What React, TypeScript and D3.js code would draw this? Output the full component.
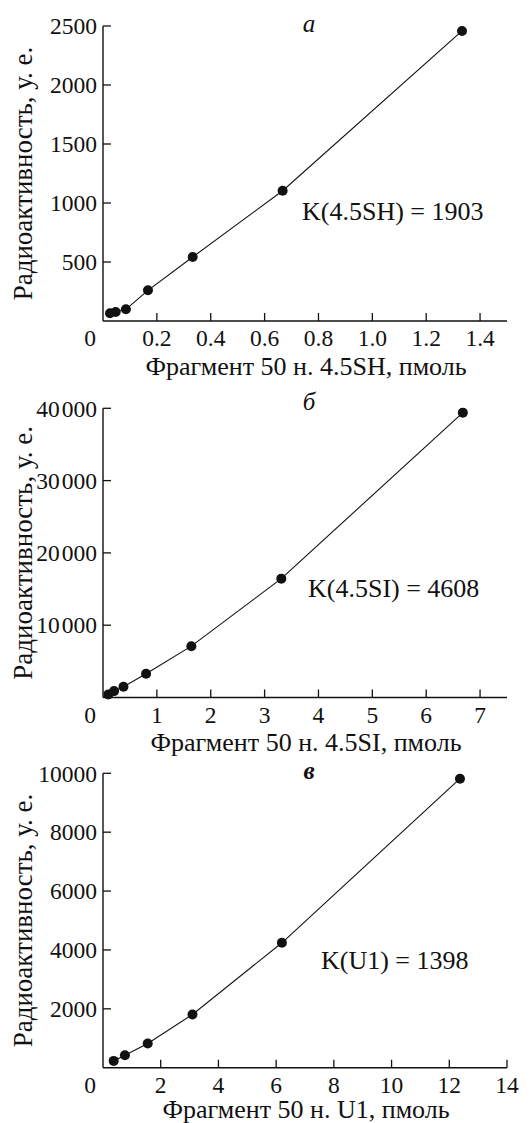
import React from "react";
import * as d3 from "d3";

// Panel a
const xA = [0.026, 0.047, 0.085, 0.167, 0.333, 0.667, 1.333];
const yA = [65, 76, 99, 260, 542, 1104, 2458];
const xTicksA = [0.2, 0.4, 0.6, 0.8, 1.0, 1.2, 1.4];
const yTicksA = [500, 1000, 1500, 2000, 2500];

// Panel b
const xB = [0.1, 0.205, 0.38, 0.8, 1.64, 3.31, 6.68];
const yB = [430, 885, 1490, 3285, 7100, 16440, 39400];
const xTicksB = [1, 2, 3, 4, 5, 6, 7];
const yTicksB = [10000, 20000, 30000, 40000];

// Panel c
const xC = [0.37, 0.76, 1.55, 3.1, 6.2, 12.37];
const yC = [231, 425, 822, 1808, 4243, 9817];
const xTicksC = [2, 4, 6, 8, 10, 12, 14];
const yTicksC = [2000, 4000, 6000, 8000, 10000];

const FONT = "Liberation Serif, Times New Roman, serif";
const INK = "#111";

type PanelProps = {
  xs: number[];
  ys: number[];
  xDomain: [number, number];
  yDomain: [number, number];
  xTicks: number[];
  yTicks: number[];
  xFmt: (v: number) => string;
  yFmt: (v: number) => string;
  top: number;
  bottom: number;
  letter: string;
  letterBold?: boolean;
  letterY: number;
  kText: string;
  kX: number;
  kY: number;
  xTitle: string;
  titleY: number;
};

const LEFT = 103;
const RIGHT = 507;

function Panel(p: PanelProps) {
  const x = d3.scaleLinear().domain(p.xDomain).range([LEFT, RIGHT]);
  const y = d3.scaleLinear().domain(p.yDomain).range([p.bottom, p.top]);
  const pts = p.xs.map((v, i) => [v, p.ys[i]] as [number, number]);
  const line = d3
    .line<[number, number]>()
    .x((d) => x(d[0]))
    .y((d) => y(d[1]));
  const yMid = (p.top + p.bottom) / 2;
  return (
    <g fontFamily={FONT}>
      <line x1={LEFT} x2={LEFT} y1={p.top} y2={p.bottom} stroke={INK} strokeWidth={1.4} />
      <line x1={LEFT} x2={RIGHT} y1={p.bottom} y2={p.bottom} stroke={INK} strokeWidth={1.4} />
      {p.yTicks.map((t) => (
        <g key={"y" + t}>
          <line x1={LEFT} x2={LEFT + 8} y1={y(t)} y2={y(t)} stroke={INK} strokeWidth={1.3} />
          <text x={97} y={y(t)} dy="0.35em" textAnchor="end" fontSize={23.5} fill={INK}>
            {p.yFmt(t)}
          </text>
        </g>
      ))}
      {p.xTicks.map((t) => (
        <g key={"x" + t}>
          <line x1={x(t)} x2={x(t)} y1={p.bottom} y2={p.bottom - 8} stroke={INK} strokeWidth={1.3} />
          <text x={x(t)} y={p.bottom + 25} textAnchor="middle" fontSize={23.5} fill={INK}>
            {p.xFmt(t)}
          </text>
        </g>
      ))}
      <text x={90} y={p.bottom + 25} textAnchor="middle" fontSize={23.5} fill={INK}>
        0
      </text>
      <path d={line(pts) || ""} fill="none" stroke={INK} strokeWidth={1.1} />
      {pts.map((d, i) => (
        <circle key={i} cx={x(d[0])} cy={y(d[1])} r={5} fill={INK} />
      ))}
      <text
        x={309}
        y={p.letterY}
        textAnchor="middle"
        fontSize={25}
        fontStyle="italic"
        fontWeight={p.letterBold ? "bold" : "normal"}
        fill={INK}
      >
        {p.letter}
      </text>
      <text x={p.kX} y={p.kY} fontSize={26} fill={INK}>
        {p.kText}
      </text>
      <text x={(LEFT + RIGHT) / 2 + 1} y={p.titleY} textAnchor="middle" fontSize={26} fill={INK}>
        {p.xTitle}
      </text>
      <text
        transform={`translate(23,${yMid}) rotate(-90)`}
        dy="0.35em"
        textAnchor="middle"
        fontSize={27}
        fill={INK}
      >
        Радиоактивность, у. е.
      </text>
    </g>
  );
}

const fmtDec = (v: number) => v.toFixed(1);
const fmtInt = (v: number) => String(v);
const fmtThin = (v: number) => {
  const s = String(v);
  return s.length > 4 ? s.slice(0, s.length - 3) + "\u200A" + s.slice(s.length - 3) : s;
};

export default function App() {
  return (
    <svg
      width={531}
      height={1123}
      viewBox="0 0 531 1123"
      style={{ position: "absolute", left: 0, top: 0, background: "#fff" }}
    >
      <rect width={531} height={1123} fill="#fff" />
      <Panel
        xs={xA}
        ys={yA}
        xDomain={[0, 1.5]}
        yDomain={[0, 2500]}
        xTicks={xTicksA}
        yTicks={yTicksA}
        xFmt={fmtDec}
        yFmt={fmtInt}
        top={26}
        bottom={321}
        letter="а"
        letterY={32}
        kText="K(4.5SH) = 1903"
        kX={302}
        kY={220}
        xTitle="Фрагмент 50 н. 4.5SH, пмоль"
        titleY={375}
      />
      <Panel
        xs={xB}
        ys={yB}
        xDomain={[0, 7.5]}
        yDomain={[0, 40000]}
        xTicks={xTicksB}
        yTicks={yTicksB}
        xFmt={fmtInt}
        yFmt={fmtThin}
        top={408.3}
        bottom={697.5}
        letter="б"
        letterY={410}
        kText="K(4.5SI) = 4608"
        kX={308}
        kY={597}
        xTitle="Фрагмент 50 н. 4.5SI, пмоль"
        titleY={751}
      />
      <Panel
        xs={xC}
        ys={yC}
        xDomain={[0, 14]}
        yDomain={[0, 10000]}
        xTicks={xTicksC}
        yTicks={yTicksC}
        xFmt={fmtInt}
        yFmt={fmtInt}
        top={773.3}
        bottom={1067.7}
        letter="в"
        letterBold
        letterY={779}
        kText="K(U1) = 1398"
        kX={321}
        kY={969}
        xTitle="Фрагмент 50 н. U1, пмоль"
        titleY={1118}
      />
    </svg>
  );
}
